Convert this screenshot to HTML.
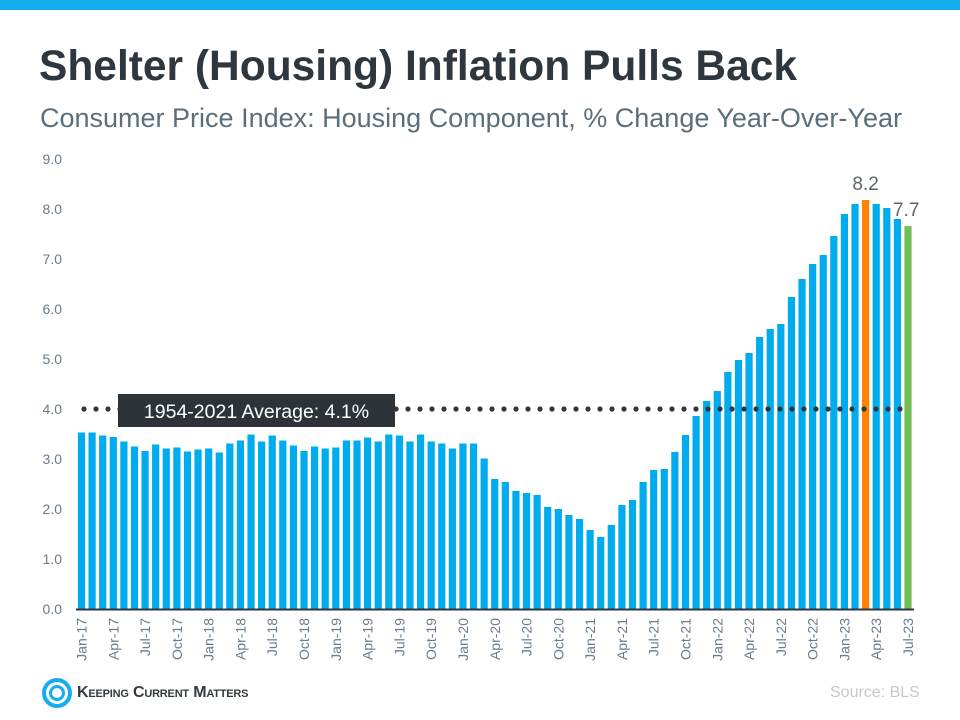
<!DOCTYPE html>
<html><head><meta charset="utf-8"><style>
body{margin:0;background:#fff;}
#wrap{position:relative;width:960px;height:720px;overflow:hidden;font-family:"Liberation Sans",Arial,sans-serif;}
</style></head><body>
<div id="wrap">
<div style="position:absolute;left:0;top:0;width:960px;height:10px;background:#14aef0"></div>
<div style="position:absolute;left:39px;top:43px;font-size:42.5px;font-weight:bold;color:#2e3740;white-space:nowrap">Shelter (Housing) Inflation Pulls Back</div>
<div style="position:absolute;left:40px;top:103px;font-size:27px;color:#5b6e7a;white-space:nowrap">Consumer Price Index: Housing Component, % Change Year-Over-Year</div>
<svg id="chart" width="960" height="720" style="position:absolute;left:0;top:0"></svg>
<div style="position:absolute;left:830px;top:684px;font-size:16px;color:#c4c9ce">Source: BLS</div>
<div style="position:absolute;left:42px;top:678px;">
<svg width="30" height="30" viewBox="0 0 30 30"><circle cx="15" cy="15" r="13" fill="none" stroke="#14aef0" stroke-width="4"/><circle cx="15" cy="15" r="6.5" fill="none" stroke="#14aef0" stroke-width="3"/></svg>
<span style="position:absolute;left:35px;top:6px;font-size:16px;font-weight:bold;font-variant:small-caps;color:#333a40;white-space:nowrap;letter-spacing:-0.2px">Keeping Current Matters</span>
</div>
</div>
<script>
const values = [3.53,3.53,3.47,3.44,3.35,3.25,3.16,3.29,3.21,3.23,3.15,3.19,3.21,3.13,3.31,3.37,3.49,3.35,3.47,3.37,3.27,3.16,3.25,3.21,3.23,3.37,3.37,3.43,3.35,3.49,3.47,3.35,3.49,3.35,3.31,3.21,3.31,3.31,3.01,
2.6,2.54,2.36,2.32,2.28,2.04,2.0,1.88,1.8,1.58,1.44,1.68,2.08,2.18,2.54,2.78,2.8,3.14,3.48,3.86,4.16,4.36,4.74,4.98,5.12,5.44,5.6,5.7,6.24,6.6,6.9,7.08,7.46,7.9,8.1,8.18,8.1,8.02,7.8,7.66];
const monthNames = ["Jan","Feb","Mar","Apr","May","Jun","Jul","Aug","Sep","Oct","Nov","Dec"];
const yTicks = [0,1,2,3,4,5,6,7,8,9];
const average = 4.0;
const avgLabel = "1954-2021 Average: 4.1%";
const peakIndex = 74;
const peakLabel = "8.2";
const lastLabel = "7.7";

const svg = document.getElementById('chart');
const NS = 'http://www.w3.org/2000/svg';
const y0 = 609, pxPerUnit = 50;
const yScale = v => y0 - v * pxPerUnit;
const xScale = i => 81.5 + i * (826.5 / (values.length - 1));
const bw = 7.2;
function mk(tag, attrs){const e=document.createElementNS(NS,tag);for(const k in attrs)e.setAttribute(k,attrs[k]);svg.appendChild(e);return e;}

yTicks.forEach(t=>{
  const e = mk('text',{x:62,y:yScale(t)+5,'text-anchor':'end','font-size':14,fill:'#6b7b8a','font-family':'Liberation Sans, sans-serif'});
  e.textContent = t.toFixed(1);
  
  
});

values.forEach((v,i)=>{
  let col = '#00aced';
  if(i===peakIndex) col='#ff8200';
  if(i===values.length-1) col='#72bf57';
  const r = mk('rect',{x:xScale(i)-bw/2,y:yScale(v),width:bw,height:y0-yScale(v),fill:col});
  
  
  if(i%3===0){
    const name = monthNames[i%12]+'-'+(17+Math.floor(i/12));
    const cx = xScale(i)+5, ty = 618;
    const t = mk('text',{x:cx,y:ty,'text-anchor':'end','font-size':14,fill:'#6b7b8a','font-family':'Liberation Sans, sans-serif',transform:`rotate(-90 ${cx} ${ty})`});
    t.textContent = name;
    
    
  }
});

const ax = mk('line',{x1:76,x2:914,y1:y0+0.5,y2:y0+0.5,stroke:'#2e3740','stroke-width':2});



const avgY = yScale(average);
for(let x=84;x<=904;x+=12){
  const d = mk('circle',{cx:x,cy:avgY,r:2.6,fill:'#2e3740'});
  
  
}
const box = mk('rect',{x:118,y:394,width:277,height:33,fill:'#2d3339'});


const at = mk('text',{x:256.5,y:418,'text-anchor':'middle','font-size':19.5,fill:'#fff','font-family':'Liberation Sans, sans-serif'});
at.textContent = avgLabel;



const pk = mk('text',{x:xScale(peakIndex),y:yScale(values[peakIndex])-10,'text-anchor':'middle','font-size':19,fill:'#5b6570','font-family':'Liberation Sans, sans-serif'});
pk.textContent = peakLabel;


const li = values.length-1;
const lt = mk('text',{x:xScale(li)-15,y:yScale(values[li])-10,'text-anchor':'start','font-size':19,fill:'#5b6570','font-family':'Liberation Sans, sans-serif'});
lt.textContent = lastLabel;


</script>
</body></html>
